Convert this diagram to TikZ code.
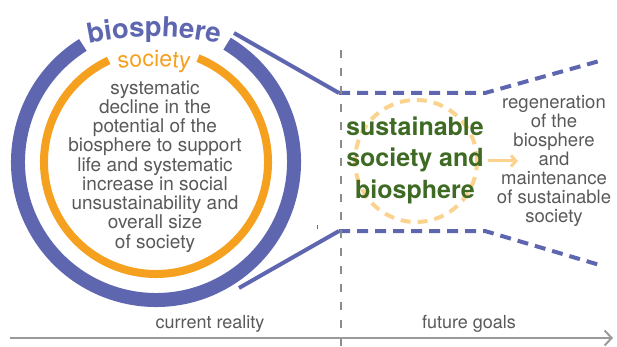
\documentclass[tikz,border=0pt]{standalone}
\usepackage{fontspec}
\setmainfont{TeX Gyre Heros}
\usetikzlibrary{decorations.text,arrows.meta}
\definecolor{bioblue}{HTML}{5E66B0}
\definecolor{socorange}{HTML}{F5A01E}
\definecolor{lightorange}{HTML}{FBD38F}
\definecolor{darkgreen}{HTML}{3E6A23}
\definecolor{txtgray}{HTML}{595959}
\definecolor{axisgray}{HTML}{9A9A9A}
\definecolor{guidegray}{HTML}{8C8C8C}
\tikzset{
  bluesolid/.style={bioblue, line width=4pt},
  bluedash/.style={bioblue, line width=4pt, dash pattern=on 11pt off 7pt},
  bodytext/.style={txtgray, align=center, inner sep=0pt},
  axislabel/.style={txtgray, inner sep=0pt, anchor=base, font=\fontsize{18}{20}\selectfont},
}
\begin{document}
\begin{tikzpicture}[x=1pt,y=-1pt]
\useasboundingbox (0,0) rectangle (617,347);
\coordinate (C) at (156,162);
% outer biosphere ring
\draw[bioblue, line width=14pt] (C) ++(-122:138) arc[start angle=-122, end angle=-419, radius=138];
% inner society ring
\draw[socorange, line width=8pt] (C) ++(-115:112) arc[start angle=-115, end angle=-428, radius=112];
% curved labels
\path[decorate, decoration={text along path, text align=center,
  text={|\fontsize{27.5}{28}\selectfont\bfseries\color{bioblue}|biosphere}}]
  (154,346.5) ++(-120:310) arc[start angle=-120, end angle=-60, radius=310];
\path[decorate, decoration={text along path, text align=center,
  text={|\fontsize{23}{23}\selectfont\color{socorange}|society}}]
  (154,316.5) ++(-125:250) arc[start angle=-125, end angle=-55, radius=250];
% circle text
\node[bodytext, font=\fontsize{19}{19.25}\selectfont] (ctext) at (155,166.5)
  {systematic\\decline in the\\potential of the\\biosphere to support\\life and systematic\\increase in social\\unsustainability and\\overall size\\of society};
% funnel lines
\coordinate (u0) at (234,33);
\coordinate (u1) at (339,93);
\coordinate (u2) at (485,93);
\coordinate (u3) at (603,60);
\coordinate (l0) at (239,288);
\coordinate (l1) at (339,231);
\coordinate (l2) at (485,231);
\coordinate (l3) at (603,266);
\draw[bluesolid] (u0) -- (u1);
\draw[bluesolid] (l0) -- (l1);
\draw[bluedash] (u1) -- (u2) -- (u3);
\draw[bluedash] (l1) -- (l2) -- (l3);
\coordinate (m0) at (317,225);
\coordinate (m1) at (317,229);
\draw[bioblue, line width=1pt] (m0) -- (m1);
% divider
\coordinate (d0) at (341,50);
\coordinate (d1) at (341,347);
\draw[guidegray, line width=1.2pt, dash pattern=on 8pt off 10pt] (d0) -- (d1);
% axis
\coordinate (a0) at (10,338);
\coordinate (a1) at (613,338);
\draw[axisgray, line width=2pt, -{Straight Barb[length=7pt,width=15pt,line width=2pt]}] (a0) -- (a1);
\node[axislabel] (cur) at (210,328) {current reality};
\node[axislabel] (fut) at (469,328) {future goals};
% goal circle
\node[circle, draw=lightorange, line width=4pt, dash pattern=on 10pt off 7pt, minimum size=122pt, inner sep=0pt] (goal) at (416,161) {};
\node[darkgreen, align=center, inner sep=0pt, font=\fontsize{25}{31.5}\selectfont\bfseries] (gtext) at (415,160)
  {sustainable\\society and\\biosphere};
\node[bodytext, font=\fontsize{18.5}{19}\selectfont] (rtext) at (554,161)
  {regeneration\\of the\\biosphere\\and\\maintenance\\of sustainable\\society};
\coordinate (o0) at (488,161);
\coordinate (o1) at (518,161);
\draw[lightorange, line width=3pt, -{Straight Barb[length=5pt,width=11pt,line width=3pt]}] (o0) -- (o1);
\end{tikzpicture}
\end{document}
